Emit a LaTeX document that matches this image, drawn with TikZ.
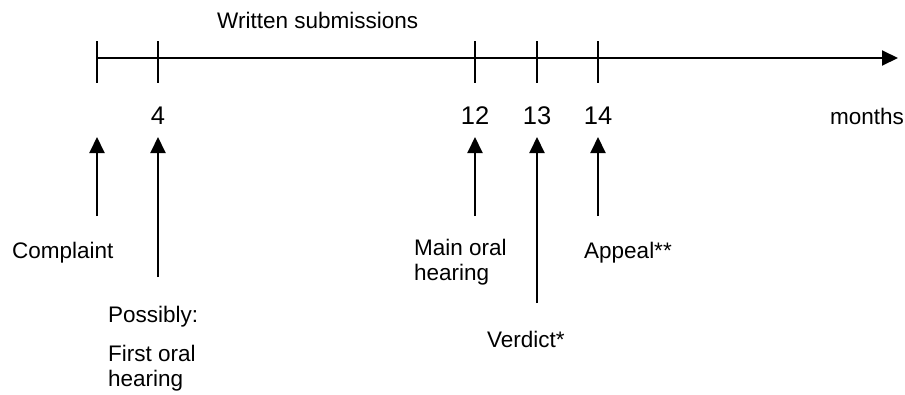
\documentclass[tikz,border=0pt]{standalone}
\usepackage{fontspec}
\setmainfont{Liberation Sans}
\usetikzlibrary{arrows.meta}
\begin{document}
\begin{tikzpicture}[x=1pt,y=-1pt,
  axisline/.style={line width=2pt},
  tickmark/.style={line width=2pt},
  pointer/.style={line width=2pt,-{Triangle[length=16pt,width=15pt]}},
  lbl/.style={inner sep=0pt,anchor=base west,font=\fontsize{22.5}{24.5}\selectfont,align=left},
  num/.style={inner sep=0pt,anchor=base,font=\fontsize{25.5}{28}\selectfont}]
\useasboundingbox (0,0) rectangle (905,394);
% time axis
\coordinate (a0) at (97,58);
\coordinate (aend) at (898,58);
\draw[axisline,-{Triangle[length=16pt,width=15pt]}] (a0) -- (aend);
% month ticks
\foreach \n/\x in {t0/97,t4/158,t12/475,t13/537,t14/598}{
  \coordinate (\n top) at (\x,41);
  \coordinate (\n bot) at (\x,83);
  \draw[tickmark] (\n top) -- (\n bot);
}
\node[lbl] (ws) at (217,28) {Written submissions};
% month numbers
\node[num] (n4) at (158,124) {4};
\node[num] (n12) at (475,124) {12};
\node[num] (n13) at (537,124) {13};
\node[num] (n14) at (598,124) {14};
\node[lbl] (months) at (830,124) {months};
% event pointers
\coordinate (p0) at (97,137);  \coordinate (q0) at (97,216);
\coordinate (p4) at (158,137); \coordinate (q4) at (158,277);
\coordinate (p12) at (475,137); \coordinate (q12) at (475,216);
\coordinate (p13) at (537,137); \coordinate (q13) at (537,303);
\coordinate (p14) at (598,137); \coordinate (q14) at (598,216);
\foreach \k in {0,4,12,13,14}{\draw[pointer] (q\k) -- (p\k);}
% event labels (base anchor sits on the last line)
\node[lbl] (complaint) at (12,258) {Complaint};
\node[lbl] (possibly) at (108,322) {Possibly:};
\node[lbl] (first) at (108,386) {First oral\\hearing};
\node[lbl] (main) at (414,280) {Main oral\\hearing};
\node[lbl] (verdict) at (487,347) {Verdict*};
\node[lbl] (appeal) at (584,258) {Appeal**};
\end{tikzpicture}
\end{document}
